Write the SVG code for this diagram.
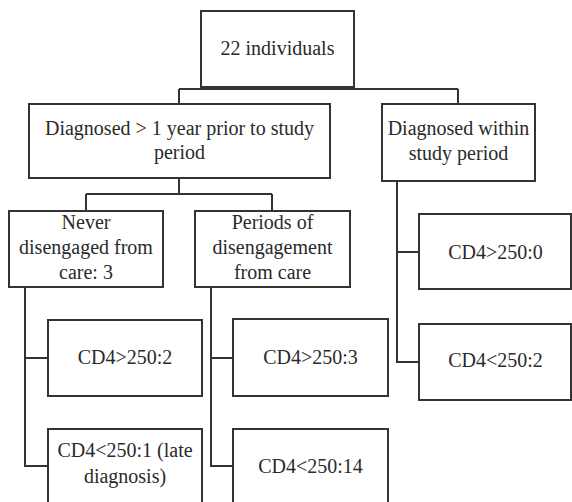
<svg xmlns="http://www.w3.org/2000/svg" width="572" height="502" viewBox="0 0 572 502">
<style>
.box{fill:#fff;stroke:#333;stroke-width:2}
.con{fill:none;stroke:#333;stroke-width:2}
.t{font-size:20px;fill:#2a2a2a;text-anchor:middle}
</style>
<rect width="572" height="502" fill="#fff"/>
<g id="connectors">
<path class="con" d="M179 89H458M179 89V104M458 89V104"/>
<path class="con" d="M179 178V194M86 194H272M86 194V211M272 194V211"/>
<path class="con" d="M25 287V466H48M25 358H48"/>
<path class="con" d="M211 287V466H233M211 358H233"/>
<path class="con" d="M397 181V362H419M397 252H419"/>
</g>
<g font-family="Liberation Serif, Times New Roman, serif">
<g id="n_total"><rect class="box" x="201" y="11" width="153" height="76"/><text class="t" x="277.5" y="55">22 individuals</text></g>
<g id="n_prior"><rect class="box" x="29" y="104" width="301" height="74"/><text class="t" x="179.5" y="135">Diagnosed &gt; 1 year prior to study</text><text class="t" x="179.5" y="159">period</text></g>
<g id="n_within"><rect class="box" x="382" y="104" width="153" height="77"/><text class="t" x="458.5" y="135">Diagnosed within</text><text class="t" x="458.5" y="160">study period</text></g>
<g id="n_never"><rect class="box" x="9" y="211" width="154" height="76"/><text class="t" x="86" y="229">Never</text><text class="t" x="86" y="254">disengaged from</text><text class="t" x="86" y="279">care: 3</text></g>
<g id="n_periods"><rect class="box" x="195" y="211" width="155" height="76"/><text class="t" x="272.5" y="229">Periods of</text><text class="t" x="272.5" y="254">disengagement</text><text class="t" x="272.5" y="279">from care</text></g>
<g id="n_never_hi"><rect class="box" x="48" y="320" width="154" height="76"/><text class="t" x="125" y="364">CD4&gt;250:2</text></g>
<g id="n_never_lo"><rect class="box" x="48" y="429" width="154" height="82"/><text class="t" x="125" y="457">CD4&lt;250:1 (late</text><text class="t" x="125" y="483">diagnosis)</text></g>
<g id="n_periods_hi"><rect class="box" x="233" y="319" width="155" height="77"/><text class="t" x="310.5" y="364">CD4&gt;250:3</text></g>
<g id="n_periods_lo"><rect class="box" x="233" y="429" width="155" height="82"/><text class="t" x="310.5" y="473">CD4&lt;250:14</text></g>
<g id="n_within_hi"><rect class="box" x="419" y="214" width="152" height="75"/><text class="t" x="495.5" y="259">CD4&gt;250:0</text></g>
<g id="n_within_lo"><rect class="box" x="419" y="324" width="152" height="76"/><text class="t" x="495.5" y="367">CD4&lt;250:2</text></g>
</g>
</svg>
